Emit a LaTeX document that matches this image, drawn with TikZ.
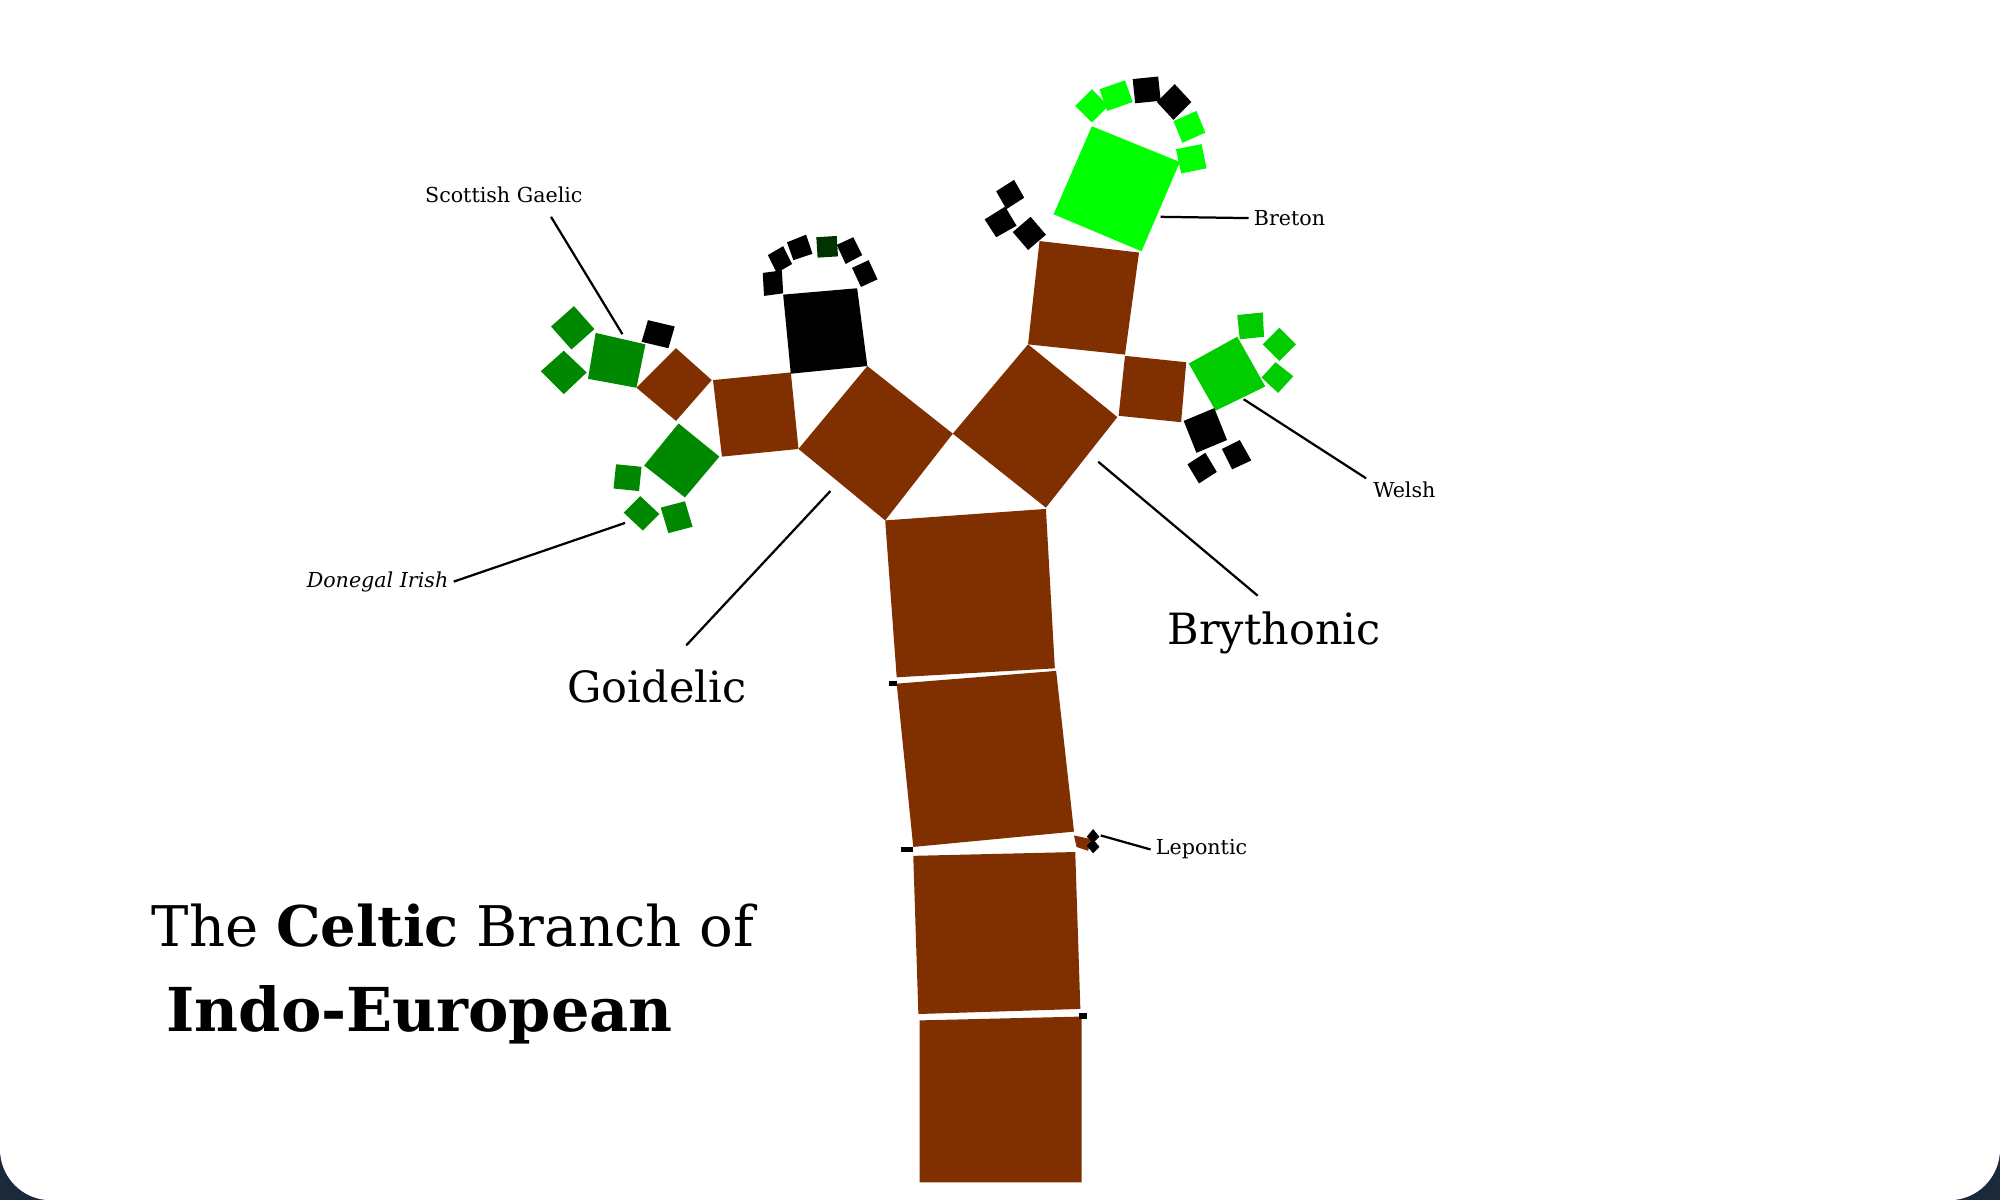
\documentclass[tikz,border=0pt]{standalone}
\usepackage{fontspec}
\setmainfont{DejaVu Serif}
\definecolor{bark}{HTML}{7F2F00}
\definecolor{leafA}{HTML}{008800}
\definecolor{leafB}{HTML}{00CC00}
\definecolor{leafC}{HTML}{00FF00}
\definecolor{leafD}{HTML}{003300}
\definecolor{frame}{HTML}{1B2A3A}
\newcommand{\blk}[2]{\fill[#1] #2 -- cycle;}
\begin{document}
\begin{tikzpicture}[x=0.1mm,y=-0.1mm,
  lbl/.style={font=\fontsize{4.6}{6}\selectfont,inner sep=1pt},
  big/.style={font=\fontsize{9.6}{12}\selectfont,inner sep=1pt},
  pointer/.style={line width=0.5pt}]
\useasboundingbox (0,0) rectangle (1568,941);
\fill[frame] (0,0) rectangle (1568,941);
\fill[white,rounded corners=4mm] (0,0) rectangle (1568,941);
\fill[white] (0,0) rectangle (1568,400);
% trunk
\blk{bark}{(721,927) -- (848,927) -- (848,797) -- (721,800)}
\blk{bark}{(720,795) -- (847,791) -- (843,668) -- (716,671)}
\blk{bark}{(716,664) -- (842,652) -- (828,526) -- (703,536)}
\blk{bark}{(703,531) -- (827,524) -- (820,399) -- (694,408)}
\fill (697,534) rectangle (703,538);
\fill (706,664) rectangle (716,668);
\fill (846,794) rectangle (852,799);
\blk{bark}{(842,655) -- (856,658) -- (853,667) -- (844,664)}
\blk{black}{(852,656) -- (857,650) -- (862,656) -- (857,661)}
\blk{black}{(852,663) -- (857,658) -- (862,664) -- (857,669)}
% fork
\blk{bark}{(694,408) -- (747,340) -- (680,287) -- (626,352)}
\blk{bark}{(747,340) -- (820,398) -- (876,327) -- (806,270)}
% left branch
\blk{bark}{(566,358) -- (626,352) -- (620,292) -- (559,298)}
\blk{black}{(620,293) -- (680,287) -- (672,226) -- (614,231)}
\blk{black}{(598,214) -- (613,212) -- (614,230) -- (599,232)}
\blk{black}{(602,200) -- (614,193) -- (621,207) -- (609,214)}
\blk{black}{(617,190) -- (632,184) -- (637,199) -- (622,204)}
\blk{leafD}{(640,186) -- (656,185) -- (657,201) -- (641,202)}
\blk{black}{(656,192) -- (669,186) -- (676,200) -- (663,207)}
\blk{black}{(668,210) -- (681,204) -- (688,219) -- (675,225)}
\blk{bark}{(530,330) -- (558,298) -- (530,273) -- (499,304)}
\blk{leafA}{(461,297) -- (499,304) -- (506,270) -- (467,261)}
\blk{black}{(503,268) -- (524,273) -- (529,256) -- (508,251)}
\blk{leafA}{(432,256) -- (450,240) -- (466,258) -- (448,274)}
\blk{leafA}{(424,291) -- (442,275) -- (460,292) -- (442,309)}
\blk{leafA}{(505,365) -- (532,332) -- (564,358) -- (537,390)}
\blk{leafA}{(483,364) -- (503,366) -- (501,385) -- (481,383)}
\blk{leafA}{(489,402) -- (502,389) -- (517,403) -- (504,416)}
\blk{leafA}{(518,398) -- (537,393) -- (543,413) -- (524,418)}
% right branch
\blk{bark}{(806,270) -- (882,278) -- (893,198) -- (815,189)}
\blk{leafC}{(826,168) -- (895,197) -- (925,127) -- (856,99)}
\blk{leafC}{(843,83) -- (856,70) -- (869,83) -- (856,96)}
\blk{leafC}{(862,70) -- (882,63) -- (888,80) -- (868,87)}
\blk{black}{(888,62) -- (908,60) -- (910,79) -- (890,81)}
\blk{black}{(907,80) -- (921,66) -- (934,80) -- (920,94)}
\blk{leafC}{(920,95) -- (938,87) -- (945,104) -- (927,112)}
\blk{leafC}{(922,117) -- (942,113) -- (946,132) -- (926,136)}
\blk{black}{(794,182) -- (808,170) -- (820,184) -- (806,196)}
\blk{black}{(772,172) -- (788,162) -- (797,177) -- (781,186)}
\blk{black}{(781,150) -- (795,141) -- (803,155) -- (789,164)}
\blk{bark}{(877,326) -- (926,331) -- (930,284) -- (882,279)}
\blk{leafB}{(932,285) -- (970,264) -- (992,303) -- (953,322)}
\blk{leafB}{(970,247) -- (990,245) -- (991,264) -- (972,266)}
\blk{leafB}{(990,270) -- (1003,257) -- (1016,270) -- (1003,283)}
\blk{leafB}{(989,296) -- (1000,284) -- (1014,295) -- (1002,308)}
\blk{black}{(928,330) -- (952,320) -- (962,345) -- (938,355)}
\blk{black}{(931,364) -- (945,355) -- (954,370) -- (940,379)}
\blk{black}{(958,352) -- (972,345) -- (981,361) -- (966,368)}
% labels
\node[lbl] (scot) at (395,153) {Scottish Gaelic};
\node[lbl] (bret) at (1011,171) {Breton};
\node[lbl] (wels) at (1101,384) {Welsh};
\node[lbl] (done) at (296,456) {\itshape Donegal Irish};
\node[lbl] (lepo) at (942,666) {Lepontic};
\node[big] (goid) at (515,538) {Goidelic};
\node[big] (bryt) at (999,496) {Brythonic};
\coordinate (pScot) at (488,262);
\coordinate (pBret) at (910,170);
\coordinate (pWels) at (975,313);
\coordinate (pDone) at (490,410);
\coordinate (pLepo) at (863,655);
\coordinate (pGoid) at (651,385);
\coordinate (pBryt) at (861,362);
\draw[pointer] (432,170) -- (pScot);
\draw[pointer] (bret.west) -- (pBret);
\draw[pointer] (1071,375) -- (pWels);
\draw[pointer] (done.east) -- (pDone);
\draw[pointer] (lepo.west) -- (pLepo);
\draw[pointer] (538,506) -- (pGoid);
\draw[pointer] (986,467) -- (pBryt);
\node[font=\fontsize{12.5}{15}\selectfont,inner sep=0pt] (titleA) at (355,726) {The \textbf{Celtic} Branch of};
\node[font=\fontsize{13.5}{15}\selectfont\bfseries,inner sep=0pt] (titleB) at (329,796) {Indo-European};
\end{tikzpicture}
\end{document}
